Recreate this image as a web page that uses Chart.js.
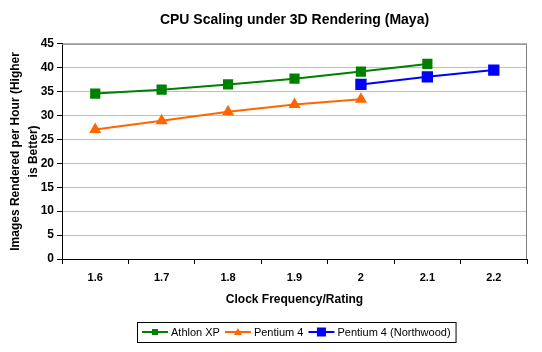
<!DOCTYPE html>
<html>
<head>
<meta charset="utf-8">
<script src="https://cdn.jsdelivr.net/npm/chart.js@4"></script>
<style>
  html, body { margin: 0; padding: 0; background: #fff; }
  #wrap { width: 542px; height: 352px; }
</style>
</head>
<body>
<div id="wrap"><canvas id="myChart" width="542" height="352"></canvas></div>
<script>
const clockLabels = ['1.6', '1.7', '1.8', '1.9', '2', '2.1', '2.2'];
const athlonXP = [34.6, 35.4, 36.5, 37.7, 39.2, 40.8, null];
const pentium4 = [27.1, 28.9, 30.8, 32.3, 33.4, null, null];
const northwood = [null, null, null, null, 36.5, 38.1, 39.5];
const yTicks = [0, 5, 10, 15, 20, 25, 30, 35, 40, 45];

const FONT = 'Arial, "Liberation Sans", sans-serif';

// plot area border (Excel style grey frame) + legend box drawn by hand
const frameAndLegend = {
    id: 'frameAndLegend',
    beforeDatasetsDraw(chart) {
        const { ctx, chartArea } = chart;
        ctx.save();
        ctx.strokeStyle = '#808080';
        ctx.lineWidth = 1;
        ctx.beginPath();
        ctx.moveTo(chartArea.left, chartArea.top + 0.5);
        ctx.lineTo(chartArea.right - 0.5, chartArea.top + 0.5);
        ctx.lineTo(chartArea.right - 0.5, chartArea.bottom);
        ctx.stroke();
        ctx.restore();
    },
    afterDraw(chart) {
        const ctx = chart.ctx;
        const sets = chart.data.datasets;
        ctx.save();
        ctx.font = '11px ' + FONT;
        ctx.textBaseline = 'middle';
        const boxX = 137, boxY = 322, boxH = 20;
        let x = boxX + 5;
        const cy = boxY + boxH / 2;
        sets.forEach(ds => {
            ctx.strokeStyle = ds.borderColor;
            ctx.lineWidth = 2;
            ctx.beginPath();
            ctx.moveTo(x, cy);
            ctx.lineTo(x + 26, cy);
            ctx.stroke();
            ctx.fillStyle = ds.borderColor;
            const mx = x + 13;
            const s = ds.legendMarker;
            if (ds.pointStyle === 'triangle') {
                ctx.beginPath();
                ctx.moveTo(mx, cy - s / 2 - 1);
                ctx.lineTo(mx + s / 2 + 1, cy + s / 2);
                ctx.lineTo(mx - s / 2 - 1, cy + s / 2);
                ctx.closePath();
                ctx.fill();
            } else {
                ctx.fillRect(mx - s / 2, cy - s / 2, s, s);
            }
            x += 29;
            ctx.fillStyle = '#000';
            ctx.fillText(ds.label, x, cy + 1);
            x += ctx.measureText(ds.label).width + 5;
        });
        ctx.strokeStyle = '#000';
        ctx.lineWidth = 1;
        ctx.strokeRect(boxX + 0.5, boxY + 0.5, x - boxX, boxH);
        ctx.restore();
    }
};

const ctx = document.getElementById('myChart');
new Chart(ctx, {
    type: 'line',
    data: {
        labels: clockLabels,
        datasets: [{
            label: 'Athlon XP',
            data: athlonXP,
            borderColor: '#008000',
            backgroundColor: '#008000',
            borderWidth: 2,
            pointStyle: 'rect',
            pointRadius: 7.2,
            pointBorderWidth: 0,
            legendMarker: 6,
            tension: 0
        }, {
            label: 'Pentium 4',
            data: pentium4,
            borderColor: '#FF6600',
            backgroundColor: '#FF6600',
            borderWidth: 2,
            pointStyle: 'triangle',
            pointRadius: 7,
            pointBorderWidth: 0,
            legendMarker: 6,
            tension: 0
        }, {
            label: 'Pentium 4 (Northwood)',
            data: northwood,
            borderColor: '#0000FF',
            backgroundColor: '#0000FF',
            borderWidth: 2,
            pointStyle: 'rect',
            pointRadius: 8,
            pointBorderWidth: 0,
            legendMarker: 9,
            tension: 0
        }]
    },
    options: {
        responsive: false,
        animation: false,
        spanGaps: false,
        layout: { padding: { left: 0, right: 15, top: 0, bottom: 41 } },
        plugins: {
            legend: { display: false },
            tooltip: { enabled: false },
            title: {
                display: true,
                text: 'CPU Scaling under 3D Rendering (Maya)',
                color: '#000',
                fullSize: false,
                font: { family: FONT, size: 14, weight: 'bold', lineHeight: 1.2 },
                padding: { top: 12, bottom: 15 }
            }
        },
        scales: {
            x: {
                type: 'category',
                offset: true,
                afterFit(scale) { scale.height = 52; },
                grid: {
                    offset: true,
                    drawOnChartArea: false,
                    drawTicks: true,
                    tickLength: 5,
                    tickColor: '#000'
                },
                border: { color: '#000', width: 1 },
                ticks: {
                    color: '#000',
                    padding: 7,
                    font: { family: FONT, size: 11, weight: 'bold' }
                },
                title: {
                    display: true,
                    text: 'Clock Frequency/Rating',
                    color: '#000',
                    font: { family: FONT, size: 12, weight: 'bold', lineHeight: 1.2 },
                    padding: { top: 0, bottom: 4 }
                }
            },
            y: {
                min: 0,
                max: 45,
                afterFit(scale) { scale.width = 62; },
                afterBuildTicks(scale) { scale.ticks = yTicks.map(v => ({ value: v })); },
                grid: {
                    color: '#c0c0c0',
                    tickColor: '#000',
                    tickLength: 5,
                    drawTicks: true
                },
                border: { color: '#000', width: 1 },
                ticks: {
                    color: '#000',
                    padding: 3,
                    font: { family: FONT, size: 12, weight: 'bold' }
                },
                title: {
                    display: true,
                    text: ['Images Rendered per Hour (Higher', 'is Better)'],
                    color: '#000',
                    font: { family: FONT, size: 12, weight: 'bold', lineHeight: 1.5 },
                    padding: { top: 7, bottom: 0 }
                }
            }
        }
    },
    plugins: [frameAndLegend]
});
</script>
</body>
</html>
